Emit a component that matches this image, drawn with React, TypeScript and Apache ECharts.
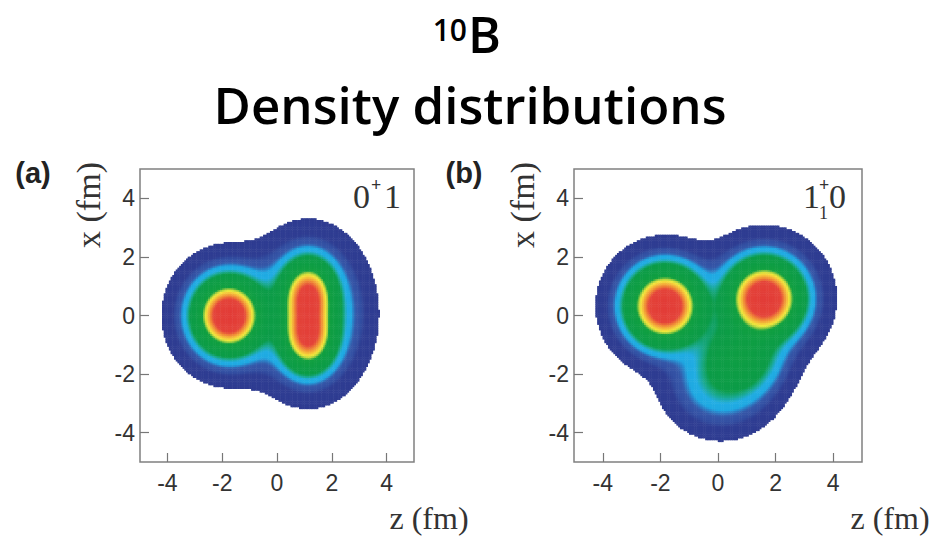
import React, { useEffect, useRef } from "react";
import * as echarts from "echarts";

// ---- Data: density model components (z, x in fm) ----
// Panel (a) 0+1 : left alpha (core + halo), right elongated cluster (two cores + halo)
const aCenterZ = [-1.75, -1.75, 1.15, 1.15, 1.15];
const aCenterX = [0.0, 0.0, 0.68, -0.68, 0.06];
const aSigmaZ = [0.6, 1.0, 0.5, 0.5, 1.05];
const aSigmaX = [0.6, 1.0, 0.62, 0.62, 1.32];
const aAmp = [1.0, 0.16, 0.75, 0.75, 0.16];

// Panel (b) 1+1 0 : two alphas (core + halo) and a lower lobe
const bCenterZ = [-1.83, -1.83, 1.62, 1.62, 0.85, 0.1];
const bCenterX = [0.33, 0.33, 0.58, 0.58, -1.35, -2.3];
const bSigmaZ = [0.64, 1.02, 0.64, 1.05, 0.78, 1.0];
const bSigmaX = [0.64, 1.02, 0.64, 1.05, 0.75, 0.9];
const bAmp = [1.0, 0.12, 1.0, 0.13, 0.18, 0.09];

const tickValues = [-4, -2, 0, 2, 4];
const axisMin = -5;
const axisMax = 5;
const densityThreshold = 0.008;

// colour levels (density -> colour)
const levelValues = [0.008, 0.024, 0.03, 0.042, 0.05, 0.058, 0.078, 0.1, 0.122, 0.38, 0.43, 0.49, 0.56, 0.66, 0.78, 1.5];
const levelColors = ["#2f3c91", "#2f3e93", "#3451a3", "#3656a7", "#2c7cc4", "#1fa9e2", "#22ade3", "#19a98a", "#0c9c48", "#12a040", "#9ccb3e", "#f3e93c", "#f5c23a", "#f08a36", "#e4443a", "#e03535"];

const N = 160;
const step = (axisMax - axisMin) / N;

function hexToRgb(h: string) {
  const v = parseInt(h.slice(1), 16);
  return [(v >> 16) & 255, (v >> 8) & 255, v & 255];
}
function colorAt(v: number) {
  if (v <= levelValues[0]) return levelColors[0];
  for (let k = 1; k < levelValues.length; k++) {
    if (v <= levelValues[k]) {
      const t = (v - levelValues[k - 1]) / (levelValues[k] - levelValues[k - 1]);
      const a = hexToRgb(levelColors[k - 1]);
      const b = hexToRgb(levelColors[k]);
      const c = a.map((x, i) => Math.round(x + (b[i] - x) * t));
      return `rgb(${c[0]},${c[1]},${c[2]})`;
    }
  }
  return levelColors[levelColors.length - 1];
}

function buildGrid(cz: number[], cx: number[], sz: number[], sx: number[], amp: number[]) {
  const out: [number, number, number][] = [];
  for (let i = 0; i < N; i++) {
    const z = axisMin + (i + 0.5) * step;
    for (let j = 0; j < N; j++) {
      const x = axisMin + (j + 0.5) * step;
      let v = 0;
      for (let k = 0; k < cz.length; k++) {
        const dz = (z - cz[k]) / sz[k];
        const dx = (x - cx[k]) / sx[k];
        v += amp[k] * Math.exp(-0.5 * (dz * dz + dx * dx));
      }
      if (v >= densityThreshold) out.push([i, j, Math.min(v, 1.5)]);
    }
  }
  return out;
}

export default function App() {
  const ref = useRef<HTMLDivElement>(null);
  useEffect(() => {
    if (!ref.current) return;
    const chart = echarts.init(ref.current, null, { renderer: "svg" });
    const cats = Array.from({ length: N }, (_, i) => String(i));
    const dataA = buildGrid(aCenterZ, aCenterX, aSigmaZ, aSigmaX, aAmp);
    const dataB = buildGrid(bCenterZ, bCenterX, bSigmaZ, bSigmaX, bAmp);
    const nColors = 300;
    const vmin = densityThreshold;
    const vmax = 1.5;
    const rangeColors = Array.from({ length: nColors }, (_, i) => colorAt(vmin + ((vmax - vmin) * i) / (nColors - 1)));

    const grids = [
      { left: 140, top: 169, width: 274, height: 293 },
      { left: 574, top: 169, width: 288, height: 293 },
    ];
    const tickLabelFont = { fontFamily: "Liberation Sans, Arial, sans-serif", fontSize: 23, color: "#333" };
    const valueAxis = (gi: number, isY: boolean) => ({
      type: "value",
      gridIndex: gi,
      position: isY ? "left" : "bottom",
      min: axisMin,
      max: axisMax,
      splitLine: { show: false },
      axisLine: { show: false },
      axisTick: { show: true, inside: true, length: 9, lineStyle: { color: "#777", width: 1.2 }, customValues: tickValues },
      axisLabel: { ...tickLabelFont, margin: isY ? 5 : 9, customValues: tickValues },
    });
    const catAxis = (gi: number, isY: boolean) => ({
      type: "category",
      gridIndex: gi,
      position: isY ? "right" : "top",
      data: cats,
      show: false,
    });

    const serif = "Liberation Serif, Times New Roman, serif";
    const sans = "Open Sans, sans-serif";
    const heat = (idx: number, data: any) => ({
      type: "heatmap",
      xAxisIndex: idx,
      yAxisIndex: idx,
      data,
      progressive: 0,
      itemStyle: { borderWidth: 0 },
    });
    const option: any = {
      animation: false,
      grid: grids.map((g) => ({ ...g, show: true, borderColor: "#808080", borderWidth: 1.5, backgroundColor: "transparent" })),
      xAxis: [catAxis(0, false), catAxis(1, false), valueAxis(0, false), valueAxis(1, false)],
      yAxis: [catAxis(0, true), catAxis(1, true), valueAxis(0, true), valueAxis(1, true)],
      visualMap: {
        type: "continuous",
        show: false,
        min: vmin,
        max: vmax,
        seriesIndex: [0, 1],
        inRange: { color: rangeColors },
      },
      series: [heat(0, dataA), heat(1, dataB)],
      graphic: [
        { type: "text", x: 470, y: 104, style: { text: "Density distributions", font: `600 51px ${sans}`, fill: "#000", align: "center", verticalAlign: "middle" } },
        { type: "text", x: 467, y: 14, style: { text: "10", font: `600 30px ${sans}`, fill: "#000", align: "right", verticalAlign: "top" } },
        { type: "text", x: 468, y: 34, style: { text: "B", font: `600 50px ${sans}`, fill: "#000", align: "left", verticalAlign: "middle" } },
        { type: "text", x: 33, y: 173, style: { text: "(a)", font: "bold 29px Liberation Sans, Arial, sans-serif", fill: "#222", align: "center", verticalAlign: "middle" } },
        { type: "text", x: 464, y: 173, style: { text: "(b)", font: "bold 29px Liberation Sans, Arial, sans-serif", fill: "#222", align: "center", verticalAlign: "middle" } },
        { type: "text", x: 88, y: 205, rotation: Math.PI / 2, style: { text: "x (fm)", font: `34px ${serif}`, fill: "#333", align: "center", verticalAlign: "middle" } },
        { type: "text", x: 522, y: 205, rotation: Math.PI / 2, style: { text: "x (fm)", font: `34px ${serif}`, fill: "#333", align: "center", verticalAlign: "middle" } },
        { type: "text", x: 429, y: 518, style: { text: "z (fm)", font: `32px ${serif}`, fill: "#333", align: "center", verticalAlign: "middle" } },
        { type: "text", x: 890, y: 518, style: { text: "z (fm)", font: `32px ${serif}`, fill: "#333", align: "center", verticalAlign: "middle" } },
        // state labels
        { type: "text", x: 353, y: 196, style: { text: "0", font: `34px ${serif}`, fill: "#333", align: "left", verticalAlign: "middle" } },
        { type: "text", x: 371, y: 185, style: { text: "+", font: `bold 18px ${serif}`, fill: "#333", align: "left", verticalAlign: "middle" } },
        { type: "text", x: 384, y: 196, style: { text: "1", font: `34px ${serif}`, fill: "#333", align: "left", verticalAlign: "middle" } },
        { type: "text", x: 803, y: 196, style: { text: "1", font: `34px ${serif}`, fill: "#333", align: "left", verticalAlign: "middle" } },
        { type: "text", x: 819, y: 185, style: { text: "+", font: `bold 18px ${serif}`, fill: "#333", align: "left", verticalAlign: "middle" } },
        { type: "text", x: 819, y: 213, style: { text: "1", font: `18px ${serif}`, fill: "#333", align: "left", verticalAlign: "middle" } },
        { type: "text", x: 829, y: 196, style: { text: "0", font: `34px ${serif}`, fill: "#333", align: "left", verticalAlign: "middle" } },
      ],
    };
    chart.setOption(option);
    return () => chart.dispose();
  }, []);
  return <div ref={ref} style={{ width: 940, height: 537, position: "absolute", left: 0, top: 0 }} />;
}
